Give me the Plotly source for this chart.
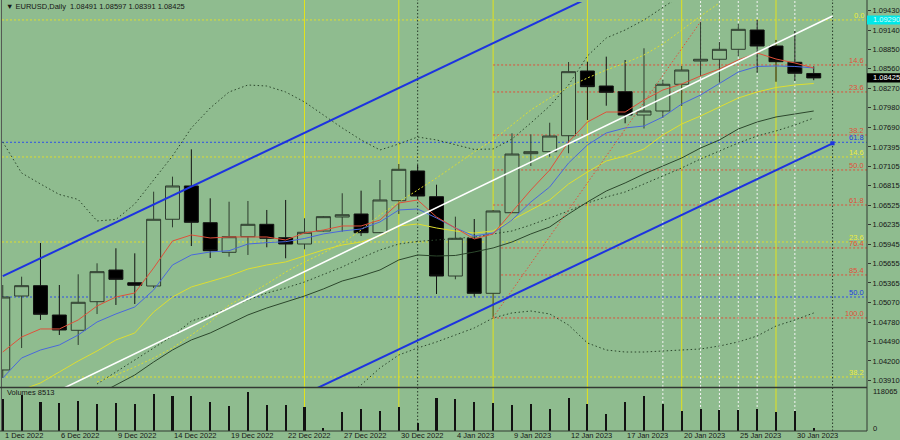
import plotly.graph_objects as go

# ---------------- data ----------------
bar_dates = ["2022-12-01", "2022-12-02", "2022-12-05", "2022-12-06", "2022-12-07", "2022-12-08", "2022-12-09",
             "2022-12-12", "2022-12-13", "2022-12-14", "2022-12-15", "2022-12-16",
             "2022-12-19", "2022-12-20", "2022-12-21", "2022-12-22", "2022-12-23",
             "2022-12-26", "2022-12-27", "2022-12-28", "2022-12-29", "2022-12-30",
             "2023-01-02", "2023-01-03", "2023-01-04", "2023-01-05", "2023-01-06",
             "2023-01-09", "2023-01-10", "2023-01-11", "2023-01-12", "2023-01-13",
             "2023-01-16", "2023-01-17", "2023-01-18", "2023-01-19", "2023-01-20",
             "2023-01-23", "2023-01-24", "2023-01-25", "2023-01-26", "2023-01-27",
             "2023-01-30", "2023-01-31"]

opens = [1.04066, 1.05170, 1.05324, 1.04886, 1.04658, 1.05085, 1.05558, 1.05368, 1.05319, 1.06315,
         1.06812, 1.06264, 1.05822, 1.06055, 1.06240, 1.06040, 1.05946, 1.06140, 1.06349, 1.06394,
         1.06115, 1.06592, 1.07036, 1.06652, 1.05468, 1.06031, 1.05210, 1.06413, 1.07294, 1.07324,
         1.07562, 1.08528, 1.08304, 1.08219, 1.07871, 1.07931, 1.08330, 1.08677, 1.08703, 1.08852,
         1.09140, 1.08901, 1.08658, 1.08491]
highs = [1.05334, 1.05458, 1.05961, 1.05334, 1.05494, 1.05658, 1.05882, 1.05807, 1.06727, 1.06951,
         1.07359, 1.06628, 1.06577, 1.06588, 1.06454, 1.06603, 1.06330, 1.06364, 1.06703, 1.06742,
         1.06901, 1.07140, 1.07125, 1.06831, 1.06354, 1.06319, 1.06454, 1.07598, 1.07583, 1.07756,
         1.08662, 1.08667, 1.08742, 1.08692, 1.08867, 1.08394, 1.08603, 1.09264, 1.08965, 1.09230,
         1.09289, 1.08991, 1.09125, 1.08597]
lows = [1.03946, 1.04394, 1.04812, 1.04588, 1.04439, 1.04901, 1.05036, 1.05051, 1.05289, 1.06195,
        1.05916, 1.05737, 1.05757, 1.05782, 1.05897, 1.05733, 1.05867, 1.06133, 1.06130, 1.06065,
        1.06110, 1.06394, 1.06603, 1.05200, 1.05419, 1.05160, 1.04852, 1.06409, 1.07110, 1.07249,
        1.07300, 1.07797, 1.08010, 1.07748, 1.07670, 1.07822, 1.08006, 1.08453, 1.08353, 1.08752,
        1.08503, 1.08368, 1.08379, 1.08391]
closes = [1.05155, 1.05324, 1.04897, 1.04663, 1.05076, 1.05533, 1.05419, 1.05330, 1.06315, 1.06812,
          1.06270, 1.05846, 1.06055, 1.06240, 1.06031, 1.05946, 1.06121, 1.06354, 1.06383, 1.06115,
          1.06603, 1.07061, 1.06662, 1.05468, 1.06031, 1.05210, 1.06439, 1.07289, 1.07324, 1.07558,
          1.08518, 1.08294, 1.08210, 1.07871, 1.07931, 1.08330, 1.08543, 1.08703, 1.08852, 1.09150,
          1.08901, 1.08667, 1.08494, 1.08425]
volumes = [96000, 108900, 88500, 85400, 91500, 81500, 83600, 80500, 111000, 105900,
           105900, 88500, 75400, 118065, 78400, 78400, 73200, 9200, 58000, 65300,
           61000, 71400, 24400, 98900, 95800, 86600, 85400, 78400, 80500, 66200,
           98900, 81500, 51000, 86600, 105900, 80500, 61000, 66200, 63200, 63200,
           65300, 56100, 60100, 8513]

ma_red = [1.04334, 1.04558, 1.04678, 1.04678, 1.04812, 1.05021, 1.05155, 1.05215, 1.05588, 1.05991,
          1.06081, 1.06036, 1.06051, 1.06051, 1.06051, 1.06006, 1.06110, 1.06155, 1.06215, 1.06215,
          1.06304, 1.06558, 1.06603, 1.06349, 1.06185, 1.06021, 1.06096, 1.06424, 1.06752, 1.07051,
          1.07469, 1.07767, 1.07916, 1.07916, 1.08096, 1.08245, 1.08334, 1.08454, 1.08558, 1.08693,
          1.08797, 1.08707, 1.08648, 1.08573]
ma_blue = [1.03946, 1.04245, 1.04364, 1.04439, 1.04588, 1.04782, 1.04902, 1.05006, 1.05260, 1.05633,
           1.05782, 1.05827, 1.05846, 1.05946, 1.05966, 1.05981, 1.06028, 1.06096, 1.06140, 1.06170,
           1.06275, 1.06454, 1.06469, 1.06334, 1.06185, 1.06066, 1.06110, 1.06304, 1.06573, 1.06797,
           1.07155, 1.07424, 1.07603, 1.07678, 1.07707, 1.07842, 1.08036, 1.08170, 1.08342, 1.08513,
           1.08596, 1.08603, 1.08596, 1.08573]
ma_yellow = [1.03663, 1.03767, 1.03872, 1.04036, 1.04200, 1.04349, 1.04514, 1.04618, 1.04931, 1.05155,
             1.05305, 1.05387, 1.05469, 1.05573, 1.05633, 1.05678, 1.05767, 1.05857, 1.05931, 1.05976,
             1.06066, 1.06215, 1.06245, 1.06185, 1.06140, 1.06110, 1.06140, 1.06304, 1.06454, 1.06603,
             1.06842, 1.07021, 1.07185, 1.07260, 1.07364, 1.07573, 1.07737, 1.07857, 1.07991, 1.08125,
             1.08215, 1.08282, 1.08319, 1.08342]
ma_dark = [None, None, None, None, None, 1.03693, 1.03842, 1.03991, 1.04185, 1.04364,
           1.04514, 1.04618, 1.04752, 1.04887, 1.04991, 1.05081, 1.05170, 1.05275, 1.05394, 1.05469,
           1.05558, 1.05708, 1.05782, 1.05767, 1.05775, 1.05827, 1.05887, 1.05976, 1.06096, 1.06200,
           1.06394, 1.06573, 1.06737, 1.06857, 1.06991, 1.07110, 1.07230, 1.07379, 1.07499, 1.07663,
           1.07767, 1.07842, 1.07887, 1.07931]
ma_dark_dot = [None, None, None, None, None, 1.03857, 1.04036, 1.04215, 1.04394, 1.04573,
               1.04797, 1.04887, 1.04991, 1.05111, 1.05215, 1.05290, 1.05379, 1.05491, 1.05603, 1.05737,
               1.05857, 1.05946, 1.05984, 1.06006, 1.06028, 1.06051, 1.06096, 1.06140, 1.06230, 1.06334,
               1.06439, 1.06558, 1.06648, 1.06722, 1.06842, 1.06961, 1.07081, 1.07215, 1.07334, 1.07454,
               1.07558, 1.07633, 1.07722, 1.07827]
band_upper = [1.07469, 1.07006, 1.06842, 1.06685, 1.06611, 1.06290, 1.06312, 1.06543, 1.06902, 1.07260,
              1.07678, 1.07976, 1.08215, 1.08319, 1.08304, 1.08215, 1.08066, 1.07872, 1.07678, 1.07499,
              1.07349, 1.07439, 1.07543, 1.07499, 1.07424, 1.07357, 1.07364, 1.07513, 1.07752, 1.08006,
              1.08319, 1.08752, 1.09021, 1.09140, 1.09290, 1.09484, 1.09663, None, None, None,
              None, None, None, None]
band_lower = [None, None, None, None, None, None, None, None, None, None,
              None, None, None, None, None, None, None, None, 1.03618, 1.03842,
              1.04096, 1.04290, 1.04394, 1.04484, 1.04588, 1.04693, 1.04842, 1.04917, 1.04946, 1.04902,
              1.04737, 1.04469, 1.04364, 1.04334, 1.04334, 1.04349, 1.04364, 1.04379, 1.04424, 1.04484,
              1.04573, 1.04722, 1.04812, 1.04917]
yellow_dash = [None, None, None, None, None, 1.03887, 1.03991, 1.04111, 1.04245, 1.04394,
               1.04588, 1.04782, 1.05036, 1.05185, 1.05349, 1.05528, 1.05678, 1.05812, 1.05961, 1.06155,
               1.06379, 1.06573, 1.06752, 1.06931, 1.07125, 1.07319, 1.07499, 1.07722, 1.07946, 1.08125,
               1.08290, 1.08424, 1.08543, 1.08648, 1.08767, 1.08931, 1.09140, 1.09349, 1.09543, None,
               None, None, None, None]

price_ticks = [1.09430, 1.09140, 1.08850, 1.08560, 1.08270, 1.07980, 1.07690, 1.07395, 1.07105, 1.06815,
               1.06525, 1.06235, 1.05945, 1.05655, 1.05365, 1.05070, 1.04780, 1.04490, 1.04200, 1.03910]
date_label_idx = [0, 3, 6, 9, 12, 15, 18, 21, 24, 27, 30, 33, 36, 39, 42]
date_labels = ["1 Dec 2022", "6 Dec 2022", "9 Dec 2022", "14 Dec 2022", "19 Dec 2022", "22 Dec 2022",
               "27 Dec 2022", "30 Dec 2022", "4 Jan 2023", "9 Jan 2023", "12 Jan 2023", "17 Jan 2023",
               "20 Jan 2023", "25 Jan 2023", "30 Jan 2023"]

# Fibonacci levels (label, price)
fib_red_labels = ["14.6", "23.6", "38.2", "50.0", "61.8", "76.4", "85.4", "100.0"]
fib_red_prices = [1.08618, 1.08215, 1.07573, 1.07051, 1.06528, 1.05887, 1.05484, 1.04842]
fib_red_start = 26
fib_yellow_labels = ["0.0", "14.6", "23.6", "38.2"]
fib_yellow_prices = [1.09290, 1.07245, 1.05976, 1.03961]
fib_blue_labels = ["61.8", "50.0"]
fib_blue_prices = [1.07464, 1.05155]
fib_red_base_x = [26, 37]
fib_red_base_y = [1.04852, 1.09264]

trend_white_x = [0, 44]
trend_white_y = [1.03354, 1.09349]
channel_upper_x = [0, 44]
channel_upper_y = [1.05466, 1.11349]
channel_lower_x = [0, 44]
channel_lower_y = [1.01566, 1.07449]

yellow_vlines = [16, 21, 26, 31, 36, 41]
white_vlines = [35, 37, 38, 39, 40, 42]
dark_vlines = [22, 44]
alert_price_text = "1.09290"
alert_price = 1.09290
vol_max_label = 118065

# ---------------- geometry ----------------
W, H = 900, 440
X_L, X_R = 2, 867
Y_MAIN_T, Y_MAIN_B = 2, 387
Y_VOL_T, Y_VOL_B = 388, 431
BAR0_PX, BAR_STEP = 2.75, 18.86
P_REF, P_REF_PY, P_PER_PX = 1.09140, 30.0, 0.00014925
VOL_PER_PX = vol_max_label / 39.0


def idx_at(px):
    return (px - BAR0_PX) / BAR_STEP


def price_at(py):
    return P_REF - (py - P_REF_PY) * P_PER_PX


def yp(py):
    return 1 - py / H


BG = "#8fbc8f"
FONT = "Liberation Sans, Arial, sans-serif"
TXT = "#161616"
RED = "#e0503a"
BLUE_MA = "#4a68dc"
YEL = "#dede30"
DARK = "#2c472c"
FS = 7.5

n = len(opens)
xs = list(range(n))

fig = go.Figure()

fig.add_trace(go.Candlestick(
    x=xs, open=opens, high=highs, low=lows, close=closes,
    increasing=dict(line=dict(color="#2e3c2e", width=1), fillcolor=BG),
    decreasing=dict(line=dict(color="#121212", width=1), fillcolor="#000000"),
    whiskerwidth=0, showlegend=False, hoverinfo="skip", xaxis="x", yaxis="y"))


def add_line(x, y, color, width=1.0, dash="solid"):
    fig.add_trace(go.Scatter(x=x, y=y, mode="lines", line=dict(color=color, width=width, dash=dash),
                             connectgaps=False, showlegend=False, hoverinfo="skip",
                             xaxis="x", yaxis="y"))


add_line(xs, band_upper, DARK, 1, "1.5px,2.5px")
add_line(xs, band_lower, DARK, 1, "1.5px,2.5px")
add_line(xs, ma_dark_dot, DARK, 1, "1.5px,2.5px")
add_line(xs, ma_dark, DARK, 1)
add_line(xs, yellow_dash, YEL, 1, "2px,2px")
add_line(xs, ma_yellow, YEL, 1)
add_line(xs, ma_blue, BLUE_MA, 1)
add_line(xs, ma_red, RED, 1)
add_line(fib_red_base_x, fib_red_base_y, RED, 1, "1.5px,2px")
add_line(trend_white_x, trend_white_y, "#ffffff", 1.6)
add_line(channel_upper_x, channel_upper_y, "#1d33e0", 2)
add_line(channel_lower_x, channel_lower_y, "#1d33e0", 2)
fig.add_trace(go.Scatter(x=[channel_lower_x[-1]], y=[channel_lower_y[-1]], mode="markers",
                         marker=dict(symbol="square", size=4, color="#1d33e0"),
                         showlegend=False, hoverinfo="skip", xaxis="x", yaxis="y"))

fig.add_trace(go.Bar(x=xs, y=volumes, width=0.11, marker=dict(color="#121212", line=dict(width=0)),
                     showlegend=False, hoverinfo="skip", xaxis="x2", yaxis="y2"))

shapes = []
full_y0, full_y1 = yp(Y_VOL_B), yp(0)
for i in yellow_vlines:
    shapes.append(dict(type="line", xref="x", yref="paper", x0=i, x1=i, y0=full_y0, y1=full_y1,
                       line=dict(color="#e2e21c", width=1), layer="below"))
for i in white_vlines:
    shapes.append(dict(type="line", xref="x", yref="paper", x0=i, x1=i, y0=full_y0, y1=full_y1,
                       line=dict(color="#f4f4f4", width=1, dash="2px,2px"), layer="below"))
for i in dark_vlines:
    shapes.append(dict(type="line", xref="x", yref="paper", x0=i, x1=i, y0=full_y0, y1=full_y1,
                       line=dict(color="#2a3a2a", width=1, dash="1.5px,2px"), layer="below"))

x_right_idx = idx_at(X_R)
x_left_idx = idx_at(X_L)
for p in fib_red_prices:
    shapes.append(dict(type="line", xref="x", yref="y", x0=fib_red_start, x1=x_right_idx, y0=p, y1=p,
                       line=dict(color=RED, width=1, dash="2px,2px"), layer="below"))
for p in fib_yellow_prices:
    shapes.append(dict(type="line", xref="x", yref="y", x0=x_left_idx, x1=x_right_idx, y0=p, y1=p,
                       line=dict(color=YEL, width=1, dash="2px,2px"), layer="below"))
for p in fib_blue_prices:
    shapes.append(dict(type="line", xref="x", yref="y", x0=x_left_idx, x1=x_right_idx, y0=p, y1=p,
                       line=dict(color="#2f4fe6", width=1, dash="2px,2px"), layer="below"))

# frame
FR = "#333833"
shapes += [
    dict(type="line", xref="paper", yref="paper", x0=X_R / W, x1=X_R / W, y0=yp(Y_VOL_B), y1=1,
         line=dict(color=FR, width=1)),
    dict(type="line", xref="paper", yref="paper", x0=1.5 / W, x1=1.5 / W, y0=yp(Y_VOL_B), y1=1,
         line=dict(color="#555a55", width=1)),
    dict(type="line", xref="paper", yref="paper", x0=0, x1=X_R / W, y0=yp(387.5), y1=yp(387.5),
         line=dict(color=FR, width=1.5)),
    dict(type="line", xref="paper", yref="paper", x0=0, x1=X_R / W, y0=yp(Y_VOL_B), y1=yp(Y_VOL_B),
         line=dict(color=FR, width=1)),
]
# price boxes on the axis
alert_py = P_REF_PY + (P_REF - alert_price) / P_PER_PX
last_py = P_REF_PY + (P_REF - closes[-1]) / P_PER_PX
shapes.append(dict(type="rect", xref="paper", yref="paper", x0=X_R / W, x1=1, y0=yp(alert_py + 4.5),
                   y1=yp(alert_py - 4.5), fillcolor="#00e8e8", line=dict(width=0)))
shapes.append(dict(type="rect", xref="paper", yref="paper", x0=X_R / W, x1=1, y0=yp(last_py + 4.7),
                   y1=yp(last_py - 4.7), fillcolor="#000000", line=dict(width=0)))

ann = []
for lab, p in zip(fib_red_labels, fib_red_prices):
    ann.append(dict(x=866 / W, xref="paper", y=p, yref="y", text=lab, showarrow=False, xanchor="right",
                    yanchor="bottom", yshift=-2, font=dict(family=FONT, size=FS, color=RED)))
for lab, p in zip(fib_yellow_labels, fib_yellow_prices):
    ann.append(dict(x=866 / W, xref="paper", y=p, yref="y", text=lab, showarrow=False, xanchor="right",
                    yanchor="bottom", yshift=-2, font=dict(family=FONT, size=FS, color="#ecec3a")))
for lab, p in zip(fib_blue_labels, fib_blue_prices):
    ann.append(dict(x=866 / W, xref="paper", y=p, yref="y", text=lab, showarrow=False, xanchor="right",
                    yanchor="bottom", yshift=-2, font=dict(family=FONT, size=FS, color="#2040e0")))

for i, lab in zip(date_label_idx, date_labels):
    ann.append(dict(x=i, xref="x", y=yp(435.5), yref="paper", text=lab, showarrow=False, xanchor="left",
                    yanchor="middle", font=dict(family=FONT, size=FS, color=TXT)))

header = "\u25BC EURUSD,Daily  %.5f %.5f %.5f %.5f" % (opens[-1], highs[-1], lows[-1], closes[-1])
ann.append(dict(x=4 / W, xref="paper", y=yp(6), yref="paper", text=header, showarrow=False,
                xanchor="left", yanchor="middle", font=dict(family=FONT, size=FS, color=TXT)))
ann.append(dict(x=5 / W, xref="paper", y=yp(392.5), yref="paper", text="Volumes %d" % volumes[-1],
                showarrow=False, xanchor="left", yanchor="middle", font=dict(family=FONT, size=FS, color=TXT)))
ann.append(dict(x=871 / W, xref="paper", y=yp(391.7), yref="paper", text=str(vol_max_label), showarrow=False,
                xanchor="left", yanchor="middle", font=dict(family=FONT, size=FS, color=TXT)))
ann.append(dict(x=871 / W, xref="paper", y=yp(428), yref="paper", text="0", showarrow=False,
                xanchor="left", yanchor="middle", font=dict(family=FONT, size=FS, color=TXT)))
ann.append(dict(x=871 / W, xref="paper", y=yp(alert_py), yref="paper", text=alert_price_text, showarrow=False,
                xanchor="left", yanchor="middle", font=dict(family=FONT, size=FS, color="#d8ffff")))
ann.append(dict(x=871 / W, xref="paper", y=yp(last_py), yref="paper", text="%.5f" % closes[-1], showarrow=False,
                xanchor="left", yanchor="middle", font=dict(family=FONT, size=FS, color="#ffffff")))

fig.update_layout(
    width=W, height=H, margin=dict(l=0, r=0, t=0, b=0),
    paper_bgcolor=BG, plot_bgcolor="rgba(0,0,0,0)",
    showlegend=False, hovermode=False, boxgap=0.26, boxgroupgap=0, bargap=0,
    xaxis=dict(domain=[X_L / W, X_R / W], range=[x_left_idx, x_right_idx], visible=False,
               rangeslider=dict(visible=False), anchor="y", fixedrange=True),
    yaxis=dict(domain=[yp(Y_MAIN_B), yp(Y_MAIN_T)], range=[price_at(Y_MAIN_B), price_at(Y_MAIN_T)],
               side="right", tickmode="array", tickvals=price_ticks,
               ticktext=["%.5f" % v for v in price_ticks], ticks="outside", ticklen=3, tickcolor=FR,
               tickfont=dict(family=FONT, size=FS, color=TXT), showgrid=False, zeroline=False,
               showline=False, anchor="x", fixedrange=True),
    xaxis2=dict(domain=[X_L / W, X_R / W], range=[x_left_idx, x_right_idx], matches="x", visible=False,
                anchor="y2", fixedrange=True),
    yaxis2=dict(domain=[yp(Y_VOL_B), yp(Y_VOL_T)], range=[0, VOL_PER_PX * (Y_VOL_B - Y_VOL_T)],
                visible=False, anchor="x2", fixedrange=True),
    shapes=shapes, annotations=ann,
)

fig.write_html("out.html", config={"displayModeBar": False},
               post_script="document.body.style.margin='0';document.body.style.overflow='hidden';")
